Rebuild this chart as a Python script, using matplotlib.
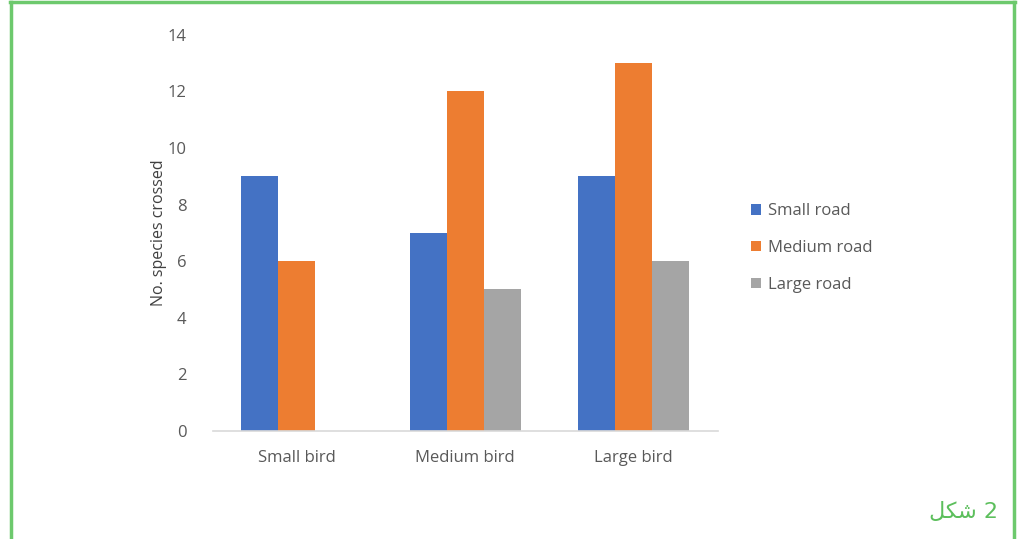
import numpy as np
import matplotlib.pyplot as plt
from matplotlib.patches import Patch
from matplotlib.lines import Line2D

# Data
categories = ["Small bird", "Medium bird", "Large bird"]
series_names = ["Small road", "Medium road", "Large road"]
small_road = [9, 7, 9]
medium_road = [6, 12, 13]
large_road = [0, 5, 6]
colors = ["#4472C4", "#ED7D31", "#A5A5A5"]
# "شكل 2" -- matplotlib does no Arabic shaping, so use presentation forms in visual order
caption = "\uFEDE\uFEDC\uFEB7 2"

plt.rcParams['font.family'] = ['Open Sans', 'DejaVu Sans']

fig = plt.figure(figsize=(10.18, 5.39), dpi=100)
ax = fig.add_axes([0.209, 0.2004, 0.496, 0.735])

x = np.arange(len(categories))
w = 0.22
for i, (vals, name) in enumerate(zip([small_road, medium_road, large_road], series_names)):
    ax.bar(x + (i - 1) * w, vals, width=w, color=colors[i], label=name)

ax.set_xlim(-0.5, 2.5)
ax.set_ylim(0, 14)
ax.set_yticks(range(0, 15, 2))
ax.set_xticks(x)
ax.set_xticklabels(categories)
for s in ["top", "right", "left"]:
    ax.spines[s].set_visible(False)
ax.spines["bottom"].set_color("#d9d9d9")
ax.spines["bottom"].set_linewidth(1.2)
ax.tick_params(axis="both", length=0, labelsize=12, labelcolor="#595959")
ax.tick_params(axis="y", pad=19)
ax.tick_params(axis="x", pad=14)
ax.set_ylabel("No. species crossed", fontsize=11.5, color="#404040", labelpad=0)

handles = [Patch(facecolor=c, edgecolor="none") for c in colors]
fig.legend(handles, series_names, loc="center left", bbox_to_anchor=(0.723, 0.540),
           frameon=False, fontsize=12, labelcolor="#595959",
           handlelength=0.6, handleheight=0.6, handletextpad=0.4, labelspacing=1.25)

# green frame
green = "#6DC96D"
fig.add_artist(Line2D([0.0108, 0.0108], [0, 0.997], color=green, lw=2.5, transform=fig.transFigure))
fig.add_artist(Line2D([0.9965, 0.9965], [0, 0.997], color=green, lw=2.5, transform=fig.transFigure))
fig.add_artist(Line2D([0.0098, 0.9975], [0.9955, 0.9955], color=green, lw=2.5, transform=fig.transFigure))

fig.text(0.98, 0.05, caption, ha="right", va="center", fontsize=16,
         color="#5CBF5C", family=["DejaVu Sans"])

fig.savefig("out.png", dpi=100)
